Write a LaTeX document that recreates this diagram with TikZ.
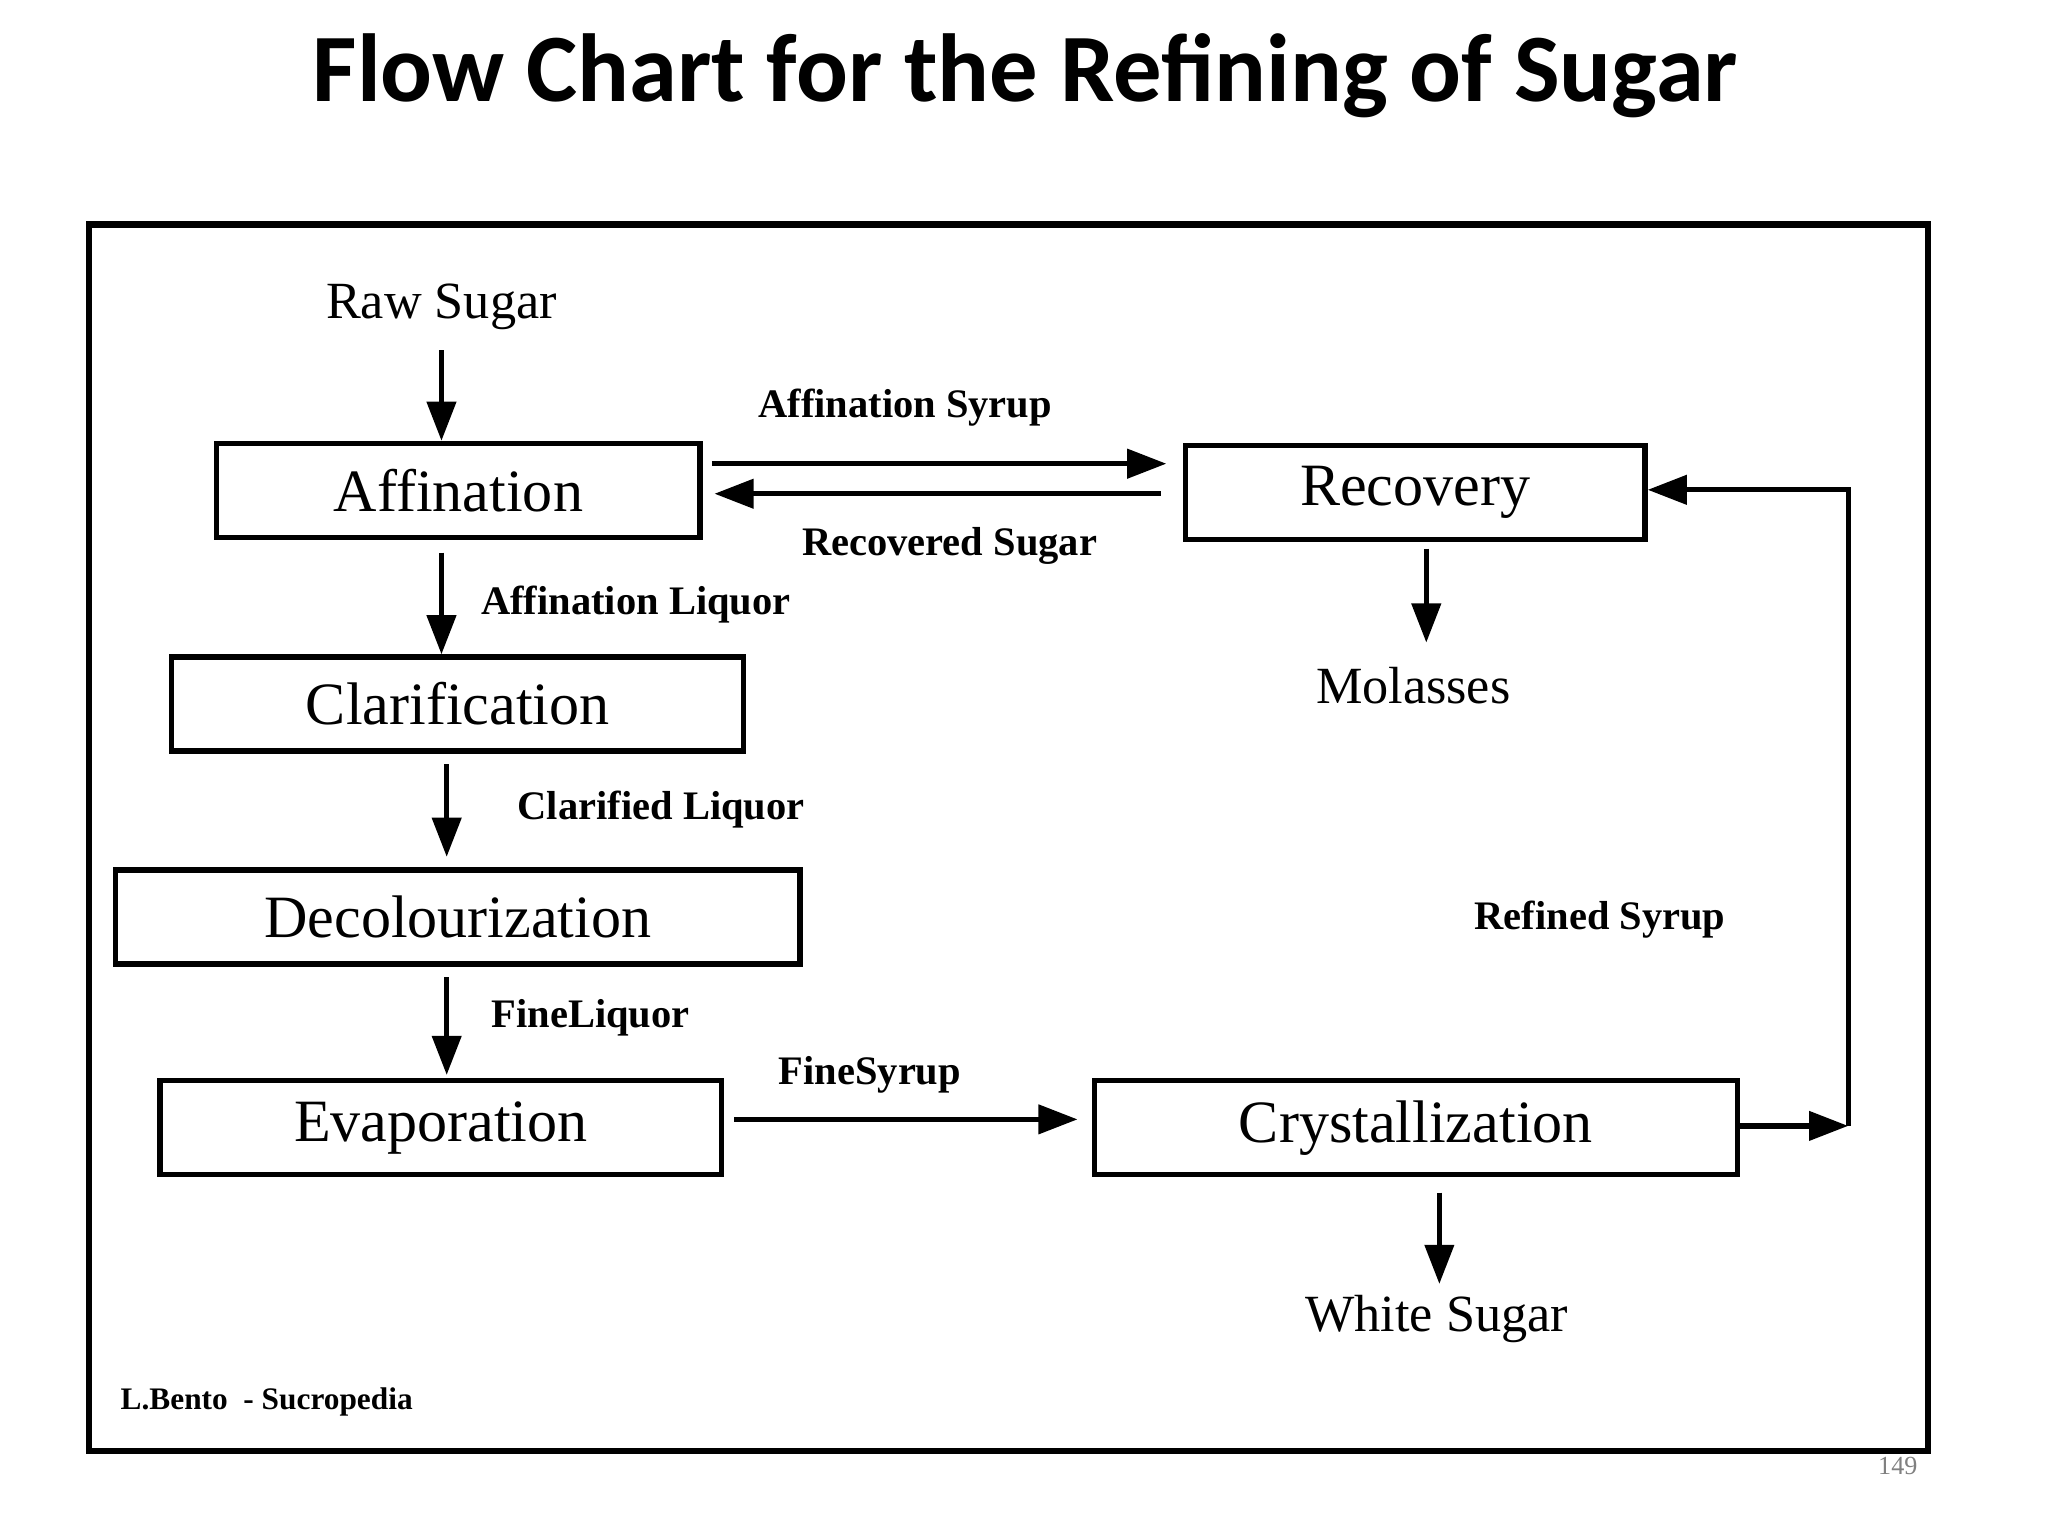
\documentclass[tikz,border=0pt]{standalone}
\usepackage{fontspec}
\setmainfont{Liberation Serif}
\newfontfamily\titlefont{Carlito}
\usetikzlibrary{arrows.meta}
\begin{document}
\begin{tikzpicture}[x=0.5pt,y=-0.5pt,
 box/.style={draw,line width=2pt,minimum height=36pt,font=\fontsize{23}{25}\selectfont,inner sep=0pt},
 lab/.style={font=\bfseries\fontsize{15.5}{17}\selectfont,inner sep=0pt},
 arr/.style={line width=2pt,-{Triangle[length=15pt,width=11pt]}}]
\useasboundingbox (0,0) rectangle (1568,1175);
\node[font=\titlefont\bfseries\fontsize{37}{40}\selectfont] (title) at (785,58) {Flow Chart for the Refining of Sugar};
\draw[line width=2.5pt] (68,172) rectangle (1476,1111);
\node[text=gray,font=\fontsize{10}{12}\selectfont] (pg) at (1453,1122) {149};
\node[box,minimum width=185pt] (aff) at (351,375.5) {Affination};
\node[box,minimum width=176pt] (rec) at (1083.5,377) {Recovery};
\node[box,minimum width=219pt] (cla) at (350.5,539) {Clarification};
\node[box,minimum width=262pt] (dec) at (350.5,702) {Decolourization};
\node[box,minimum width=215pt] (eva) at (337.5,863.5) {Evaporation};
\node[box,minimum width=246pt] (cry) at (1084,863.5) {Crystallization};
\node[font=\fontsize{20}{22}\selectfont] (raw) at (338,235) {Raw Sugar};
\node[font=\fontsize{20}{22}\selectfont] (mol) at (1082,525) {Molasses};
\node[font=\fontsize{20}{22}\selectfont] (ws) at (1100,1010) {White Sugar};
\node[lab] (l1) at (693,312) {Affination Syrup};
\node[lab] (l2) at (727,418) {Recovered Sugar};
\node[lab,anchor=west] (l3) at (368,463) {Affination Liquor};
\node[lab,anchor=west] (l4) at (396,620) {Clarified Liquor};
\node[lab,anchor=west] (l5) at (376,779) {FineLiquor};
\node[lab] (l6) at (666,823) {FineSyrup};
\node[lab] (l7) at (1225,704) {Refined Syrup};
\node[lab,anchor=west,font=\bfseries\fontsize{12}{13}\selectfont] (l8) at (92,1073) {L.Bento \ - Sucropedia};
\draw[arr] (338,268) -- (aff.north -| 338,0);
\draw[arr] (aff.east |- 0,355) ++(7,0) -- (893,355);
\draw[arr] (rec.west |- 0,378) ++(-17,0) -- (547,378);
\draw[arr] (338,423) -- (cla.north -| 338,0);
\draw[arr] (342,585) -- (342,656);
\draw[arr] (342,748) -- (342,823);
\draw[arr] (562,857) -- (825,857);
\draw[arr] (1092,420) -- (1092,492);
\draw[arr] (1102,913) -- (1102,983);
\coordinate (c1) at (1415,862);
\coordinate (c2) at (1415,375);
\draw[arr] (cry.east |- c1) -- (c1);
\draw[arr] (c1) -- (c2) -- (rec.east |- c2);
\end{tikzpicture}
\end{document}
